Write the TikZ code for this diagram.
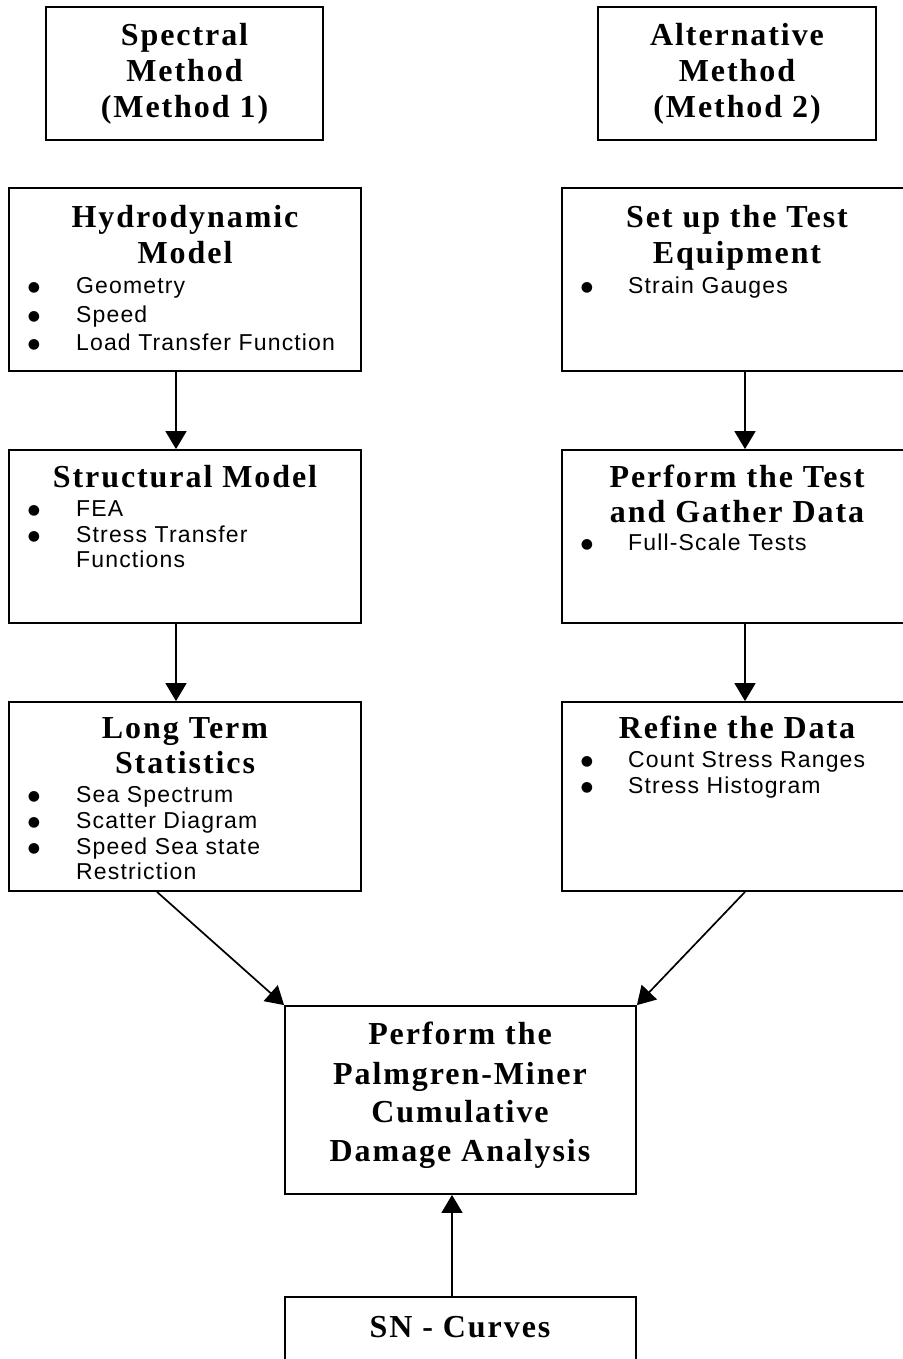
\documentclass[tikz,border=0pt]{standalone}
\usepackage{fontspec}
\setmainfont{Liberation Serif}
\newfontfamily\titlefont{Liberation Serif}[LetterSpace=6]
\newfontfamily\bodyfont{Liberation Sans}[LetterSpace=5]
\newfontfamily\dotfont{DejaVu Sans}
\usetikzlibrary{arrows.meta}
\tikzset{
  box/.style={draw=black, line width=1.8pt, rectangle, inner sep=0pt, fill=none},
  ttl/.style={font={\titlefont\bfseries\fontsize{32pt}{36pt}\selectfont}, anchor=base, inner sep=0pt},
  itm/.style={font={\bodyfont\fontsize{23pt}{26pt}\selectfont}, anchor=base west, inner sep=0pt},
  bul/.style={font={\dotfont\fontsize{14pt}{16pt}\selectfont}, anchor=base, inner sep=0pt, yshift=1.5pt}
}
\tikzset{arr/.style={line width=1.7pt, -{Triangle[length=18pt,width=21pt]}}}
\newcommand{\bulletdot}{●}
\begin{document}
\begin{tikzpicture}[x=1pt,y=-1pt]
\useasboundingbox[fill=white] (0,0) rectangle (902,1359);
% boxes
\node[box, minimum width=277pt, minimum height=133pt] (spec) at (184.5,73.5) {};
\node[box, minimum width=278pt, minimum height=133pt] (alt) at (737,73.5) {};
\node[box, minimum width=352pt, minimum height=183pt] (hydro) at (185,279.5) {};
\node[box, minimum width=352pt, minimum height=183pt] (setup) at (738,279.5) {};
\node[box, minimum width=352pt, minimum height=173pt] (struct) at (185,536.5) {};
\node[box, minimum width=352pt, minimum height=173pt] (perf) at (738,536.5) {};
\node[box, minimum width=352pt, minimum height=189pt] (long) at (185,796.5) {};
\node[box, minimum width=352pt, minimum height=189pt] (refine) at (738,796.5) {};
\node[box, minimum width=351pt, minimum height=188pt] (palm) at (460.5,1100) {};
\node[box, minimum width=351pt, minimum height=140pt] (sn) at (460.5,1367) {};
% titles
\node[ttl] (spec1) at (184.5,46) {Spectral};
\node[ttl] (spec2) at (184.5,82) {Method};
\node[ttl] (spec3) at (184.5,118) {(Method 1)};
\node[ttl] (alt1) at (737,46) {Alternative};
\node[ttl] (alt2) at (737,82) {Method};
\node[ttl] (alt3) at (737,118) {(Method 2)};
\node[ttl] (hydro1) at (185,227) {Hydrodynamic};
\node[ttl] (hydro2) at (185,263) {Model};
\node[ttl] (setup1) at (737,227) {Set up the Test};
\node[ttl] (setup2) at (737,263) {Equipment};
\node[ttl] (struct1) at (185,487) {Structural Model};
\node[ttl] (perf1) at (737,487) {Perform the Test};
\node[ttl] (perf2) at (737,522) {and Gather Data};
\node[ttl] (long1) at (185,738) {Long Term};
\node[ttl] (long2) at (185,773) {Statistics};
\node[ttl] (refine1) at (737,738) {Refine the Data};
\node[ttl] (palm1) at (460,1044) {Perform the};
\node[ttl] (palm2) at (460,1084) {Palmgren-Miner};
\node[ttl] (palm3) at (460,1122) {Cumulative};
\node[ttl] (palm4) at (460,1161) {Damage Analysis};
\node[ttl] (sn1) at (460,1337) {SN - Curves};
% bullet items
\node[bul] (hb1) at (34,293) {\bulletdot};
\node[itm] (hi1) at (76,293) {Geometry};
\node[bul] (hb2) at (34,322) {\bulletdot};
\node[itm] (hi2) at (76,322) {Speed};
\node[bul] (hb3) at (34,350) {\bulletdot};
\node[itm] (hi3) at (76,350) {Load Transfer Function};
\node[bul] (sb1) at (587,293) {\bulletdot};
\node[itm] (si1) at (628,293) {Strain Gauges};
\node[bul] (tb1) at (34,516) {\bulletdot};
\node[itm] (ti1) at (76,516) {FEA};
\node[bul] (tb2) at (34,542) {\bulletdot};
\node[itm] (ti2) at (76,542) {Stress Transfer};
\node[itm] (ti3) at (76,567) {Functions};
\node[bul] (pb1) at (587,550) {\bulletdot};
\node[itm] (pi1) at (628,550) {Full-Scale Tests};
\node[bul] (lb1) at (34,802) {\bulletdot};
\node[itm] (li1) at (76,802) {Sea Spectrum};
\node[bul] (lb2) at (34,828) {\bulletdot};
\node[itm] (li2) at (76,828) {Scatter Diagram};
\node[bul] (lb3) at (34,854) {\bulletdot};
\node[itm] (li3) at (76,854) {Speed Sea state};
\node[itm] (li4) at (76,879) {Restriction};
\node[bul] (rb1) at (587,767) {\bulletdot};
\node[itm] (ri1) at (628,767) {Count Stress Ranges};
\node[bul] (rb2) at (587,793) {\bulletdot};
\node[itm] (ri2) at (628,793) {Stress Histogram};
% connectors
\draw[arr] ([xshift=-9pt]hydro.south) -- ([xshift=-9pt]struct.north);
\draw[arr] ([xshift=-9pt]struct.south) -- ([xshift=-9pt]long.north);
\draw[arr] ([xshift=7pt]setup.south) -- ([xshift=7pt]perf.north);
\draw[arr] ([xshift=7pt]perf.south) -- ([xshift=7pt]refine.north);
\draw[arr] ([xshift=-28pt]long.south) -- (palm.north west);
\draw[arr] ([xshift=7pt]refine.south) -- (palm.north east);
\draw[arr] ([xshift=-8.5pt]sn.north) -- ([xshift=-8.5pt]palm.south);
\end{tikzpicture}
\end{document}
